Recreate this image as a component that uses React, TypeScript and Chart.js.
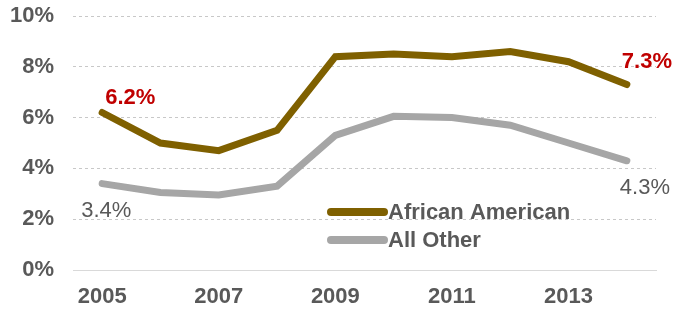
import React, { useEffect, useRef } from "react";
import { Chart, registerables } from "chart.js";

Chart.register(...registerables);

const years = ["2005", "2006", "2007", "2008", "2009", "2010", "2011", "2012", "2013", "2014"];
const africanAmerican = [6.2, 5.0, 4.7, 5.5, 8.4, 8.5, 8.4, 8.6, 8.2, 7.3];
const allOther = [3.4, 3.05, 2.95, 3.3, 5.3, 6.05, 6.0, 5.7, 5.0, 4.3];
const seriesNames = ["African American", "All Other"];
const yTicks = [0, 2, 4, 6, 8, 10];

const BROWN = "#7F6000";
const GRAY = "#A6A6A6";
const RED = "#C00000";
const TEXT = "#595959";
const FONT = "'Liberation Sans', Arial, sans-serif";

const overlayPlugin = {
  id: "overlay",
  afterDatasetsDraw(chart: any) {
    const { ctx, scales } = chart;
    const xs = scales.x;
    const ys = scales.y;
    const first = 0;
    const last = years.length - 1;
    const fmt = (v: number) => v.toFixed(1) + "%";
    ctx.save();
    ctx.textBaseline = "alphabetic";
    ctx.textAlign = "left";
    // red labels for African American
    ctx.font = `bold 22px ${FONT}`;
    ctx.fillStyle = RED;
    let px = xs.getPixelForValue(first);
    let py = ys.getPixelForValue(africanAmerican[first]);
    ctx.fillText(fmt(africanAmerican[first]), px + 3, py - 9);
    px = xs.getPixelForValue(last);
    py = ys.getPixelForValue(africanAmerican[last]);
    ctx.fillText(fmt(africanAmerican[last]), px - 5, py - 17);
    // gray labels for All Other
    ctx.font = `22px ${FONT}`;
    ctx.fillStyle = TEXT;
    px = xs.getPixelForValue(first);
    py = ys.getPixelForValue(allOther[first]);
    ctx.fillText(fmt(allOther[first]), px - 21, py + 33);
    px = xs.getPixelForValue(last);
    py = ys.getPixelForValue(allOther[last]);
    ctx.fillText(fmt(allOther[last]), px - 7, py + 33);

    // legend
    const lx0 = 331;
    const lx1 = 384;
    const rows = [
      { y: 212, color: BROWN, name: seriesNames[0] },
      { y: 240, color: GRAY, name: seriesNames[1] },
    ];
    ctx.font = `bold 22px ${FONT}`;
    ctx.lineCap = "round";
    for (const r of rows) {
      ctx.strokeStyle = r.color;
      ctx.lineWidth = 8;
      ctx.beginPath();
      ctx.moveTo(lx0, r.y);
      ctx.lineTo(lx1, r.y);
      ctx.stroke();
      ctx.fillStyle = TEXT;
      ctx.fillText(r.name, 388, r.y + 7);
    }
    ctx.restore();
  },
};

export default function App() {
  const ref = useRef<HTMLCanvasElement | null>(null);
  useEffect(() => {
    if (!ref.current) return;
    const chart = new Chart(ref.current, {
      type: "line",
      data: {
        labels: years,
        datasets: [
          {
            label: seriesNames[0],
            data: africanAmerican,
            borderColor: BROWN,
            backgroundColor: BROWN,
            borderWidth: 7,
            pointRadius: 0,
            borderCapStyle: "round",
            borderJoinStyle: "miter",
            tension: 0,
          },
          {
            label: seriesNames[1],
            data: allOther,
            borderColor: GRAY,
            backgroundColor: GRAY,
            borderWidth: 7,
            pointRadius: 0,
            borderCapStyle: "round",
            borderJoinStyle: "miter",
            tension: 0,
          },
        ],
      },
      options: {
        animation: false,
        responsive: false,
        maintainAspectRatio: false,
        layout: { padding: { top: 16, right: 28, left: 0, bottom: 0 } },
        plugins: { legend: { display: false }, tooltip: { enabled: false } },
        scales: {
          x: {
            type: "category",
            offset: true,
            grid: { display: false, drawTicks: false },
            border: { display: true, color: "#D9D9D9", width: 1 },
            ticks: {
              autoSkip: false,
              maxRotation: 0,
              padding: 14,
              color: TEXT,
              font: { family: FONT, size: 22, weight: "bold" },
              callback: (_v: any, i: number) => (i % 2 === 0 ? years[i] : ""),
            },
            afterFit: (s: any) => {
              s.height = 40;
              s.paddingLeft = 0;
              s.paddingRight = 0;
            },
          },
          y: {
            min: yTicks[0],
            max: yTicks[yTicks.length - 1],
            afterBuildTicks: (s: any) => {
              s.ticks = yTicks.map((v) => ({ value: v }));
            },
            grid: {
              drawTicks: false,
              color: (c: any) => (c.tick && c.tick.value === 0 ? "rgba(0,0,0,0)" : "#C8C8C8"),
              lineWidth: 1,
            },
            border: { display: false, dash: [3, 3] },
            ticks: {
              padding: 19,
              color: TEXT,
              font: { family: FONT, size: 22, weight: "bold" },
              callback: (v: any) => v + "%",
            },
            afterFit: (s: any) => {
              s.width = 73;
              s.paddingTop = 0;
              s.paddingBottom = 0;
            },
          },
        },
      },
      plugins: [overlayPlugin],
    } as any);
    return () => chart.destroy();
  }, []);
  return (
    <div style={{ position: "fixed", left: 0, top: 0, width: 684, height: 310, background: "#fff" }}>
      <canvas ref={ref} width={684} height={310} style={{ width: 684, height: 310, display: "block" }} />
    </div>
  );
}
